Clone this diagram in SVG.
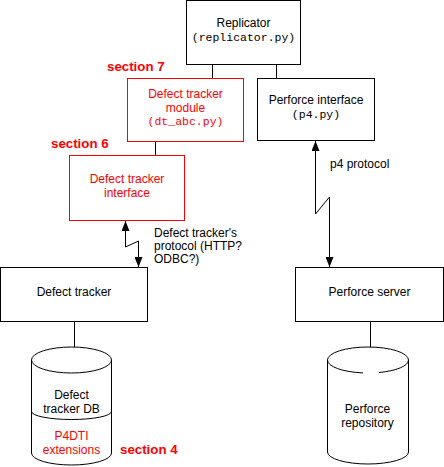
<svg xmlns="http://www.w3.org/2000/svg" width="444" height="467" viewBox="0 0 444 467">
<style>
  .box { fill: #ffffff; stroke: #000000; stroke-width: 1; }
  .rbox { fill: #ffffff; stroke: #ff0000; stroke-width: 1; }
  .ln { fill: none; stroke: #000000; stroke-width: 1; }
  .t { font-family: "Liberation Sans", Arial, sans-serif; font-size: 12px; fill: #000000; text-anchor: middle; }
  .tl { font-family: "Liberation Sans", Arial, sans-serif; font-size: 12px; fill: #000000; }
  .m { font-family: "Liberation Mono", "Courier New", monospace; font-size: 11.5px; fill: #000000; text-anchor: middle; }
  .red { fill: #ff0000; }
  .sec { font-family: "Liberation Sans", Arial, sans-serif; font-size: 13.3px; font-weight: bold; fill: #ff0000; }
</style>
<defs>
  <marker id="arr" viewBox="0 0 10 8" refX="10" refY="4" markerWidth="10" markerHeight="8" markerUnits="userSpaceOnUse" orient="auto-start-reverse">
    <path d="M0,0 L10,4 L0,8 z" fill="#000000"/>
  </marker>
</defs>
<rect width="444" height="467" fill="#ffffff"/>

<g id="connectors">
  <path class="ln" d="M212.5,64.5 V78.5"/>
  <path class="ln" d="M276.5,64.5 V78.5"/>
  <path class="ln" d="M155.5,141.5 V155.5"/>
  <path class="ln" d="M74.5,321.5 V347"/>
  <path class="ln" d="M370.5,321.5 V347"/>
  <path class="ln" d="M125.5,221 V247 L138.5,241 V267" marker-start="url(#arr)" marker-end="url(#arr)"/>
  <path class="ln" d="M315.5,141 V214 L329.5,197 V267" marker-start="url(#arr)" marker-end="url(#arr)"/>
  <text class="tl" x="154" y="237">Defect tracker's</text>
  <text class="tl" x="154" y="250">protocol (HTTP?</text>
  <text class="tl" x="154" y="263">ODBC?)</text>
  <text class="tl" x="330" y="168">p4 protocol</text>
</g>

<g id="replicator">
  <rect class="box" x="186.5" y="0.5" width="114" height="64"/>
  <text class="t" x="243.5" y="27">Replicator</text>
  <text class="m" x="243.5" y="41">(replicator.py)</text>
</g>

<g id="dt-module">
  <text class="sec" x="107" y="71">section 7</text>
  <rect class="rbox" x="127.5" y="78.5" width="116" height="63"/>
  <text class="t red" x="185.5" y="98">Defect tracker</text>
  <text class="t red" x="185.5" y="112">module</text>
  <text class="m red" x="185.5" y="125">(dt_abc.py)</text>
</g>

<g id="perforce-interface">
  <rect class="box" x="257.5" y="78.5" width="117" height="62"/>
  <text class="t" x="316" y="104">Perforce interface</text>
  <text class="m" x="316" y="118">(p4.py)</text>
</g>

<g id="dt-interface">
  <text class="sec" x="51" y="148">section 6</text>
  <rect class="rbox" x="69.5" y="155.5" width="115" height="65"/>
  <text class="t red" x="127" y="183">Defect tracker</text>
  <text class="t red" x="127" y="197">interface</text>
</g>

<g id="defect-tracker">
  <rect class="box" x="0.5" y="267.5" width="147" height="54"/>
  <text class="t" x="74" y="296">Defect tracker</text>
</g>

<g id="perforce-server">
  <rect class="box" x="295.5" y="267.5" width="148" height="54"/>
  <text class="t" x="369.5" y="296">Perforce server</text>
</g>

<g id="dt-db">
  <path class="ln" d="M31.5,360 V453 A40,12 0 0 0 111.5,453 V360"/>
  <ellipse class="ln" cx="71.5" cy="360" rx="40" ry="13"/>
  <path class="ln" d="M31.5,411.5 A40,8 0 0 0 111.5,411.5"/>
  <text class="t" x="71.5" y="399">Defect</text>
  <text class="t" x="71.5" y="412.5">tracker DB</text>
  <text class="t red" x="71.5" y="440">P4DTI</text>
  <text class="t red" x="71.5" y="453.5">extensions</text>
  <text class="sec" x="120" y="453.5">section 4</text>
</g>

<g id="perforce-repository">
  <path class="ln" d="M327.5,360 V452 A40.5,12 0 0 0 408.5,452 V360"/>
  <path class="ln" d="M327.5,360 A40.5,13 0 0 1 408.5,360"/>
  <path class="ln" d="M327.5,360 A40.5,13 0 0 0 363,372.9"/>
  <path class="ln" d="M379,372.5 A40.5,13 0 0 0 408.5,360"/>
  <text class="t" x="367.5" y="413">Perforce</text>
  <text class="t" x="367.5" y="426.5">repository</text>
</g>
</svg>
